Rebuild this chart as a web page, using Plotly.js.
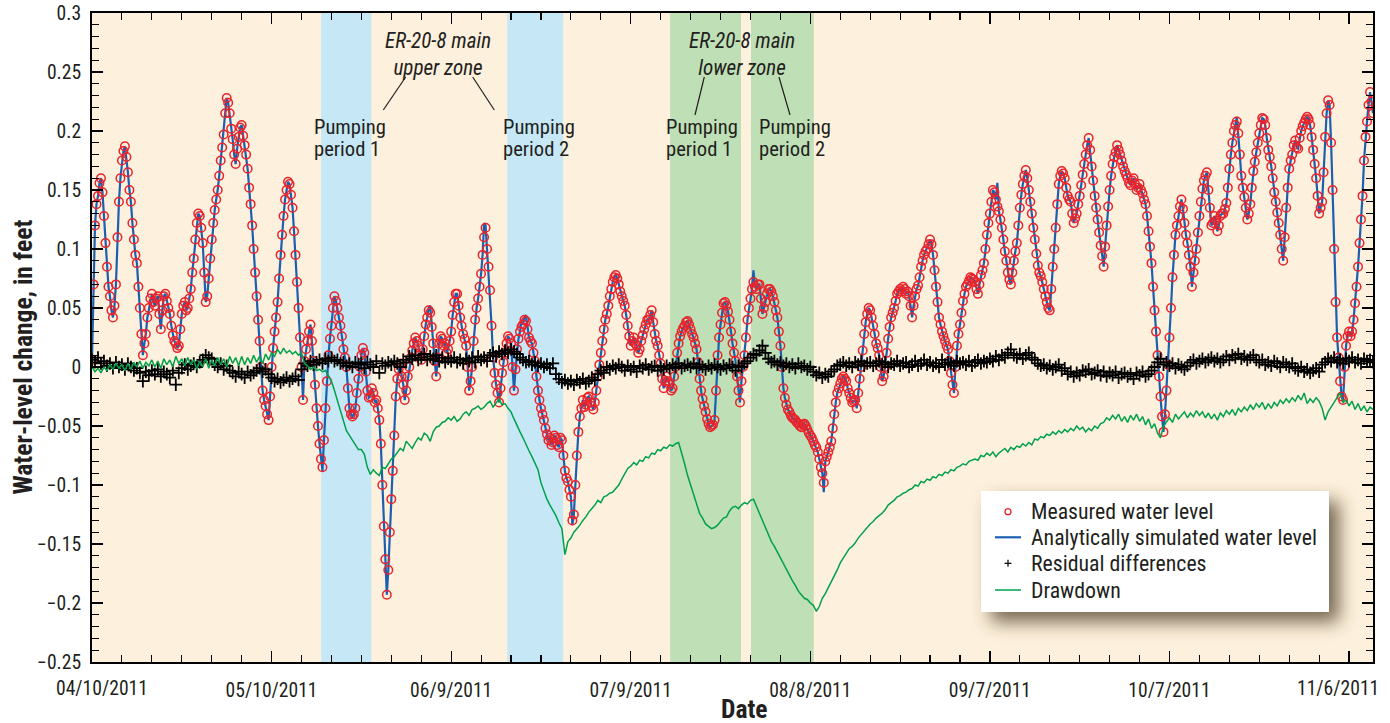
<!DOCTYPE html>
<html>
<head>
<meta charset="utf-8">
<script src="https://cdn.plot.ly/plotly-3.0.1.min.js"></script>
<style>
  html, body { margin: 0; padding: 0; background: #ffffff; }
  #chart { width: 1390px; height: 723px; }
</style>
</head>
<body>
<div id="chart"></div>
<script>
// Record starts 2011-04-10 00:00. Water levels every 6 hours, residuals and drawdown every 12 hours.
const recordStart = '2011-04-10T00:00:00Z';
const levelStepHours = 6;
const seriesStepHours = 12;

// Measured water-level change, feet
const measured = [
  0.006, 0.070, 0.120, 0.138, 0.145, 0.156, 0.160, 0.148, 0.128, 0.105, 0.085, 0.068, 0.060, 0.048, 0.042, 0.052, 0.070, 0.110, 0.140, 0.160,
  0.175, 0.183, 0.187, 0.178, 0.165, 0.150, 0.140, 0.122, 0.108, 0.095, 0.088, 0.068, 0.050, 0.028, 0.010, 0.020, 0.028, 0.042, 0.050, 0.058,
  0.062, 0.055, 0.052, 0.058, 0.060, 0.045, 0.032, 0.048, 0.060, 0.062, 0.056, 0.050, 0.045, 0.035, 0.027, 0.022, 0.020, 0.016, 0.018, 0.032,
  0.045, 0.052, 0.055, 0.048, 0.050, 0.058, 0.066, 0.080, 0.092, 0.108, 0.122, 0.130, 0.128, 0.118, 0.105, 0.080, 0.055, 0.060, 0.075, 0.092,
  0.108, 0.122, 0.133, 0.142, 0.150, 0.162, 0.175, 0.186, 0.197, 0.215, 0.228, 0.224, 0.215, 0.202, 0.193, 0.180, 0.172, 0.185, 0.195, 0.203,
  0.205, 0.196, 0.188, 0.180, 0.168, 0.152, 0.138, 0.120, 0.100, 0.080, 0.060, 0.040, 0.022, 0.000, -0.020, -0.028, -0.033, -0.040, -0.045, -0.025,
  0.000, 0.016, 0.030, 0.042, 0.055, 0.075, 0.095, 0.112, 0.128, 0.142, 0.150, 0.157, 0.155, 0.146, 0.135, 0.115, 0.095, 0.072, 0.050, 0.025,
  0.000, -0.028, 0.005, 0.015, 0.022, 0.030, 0.036, 0.022, 0.005, -0.015, -0.035, -0.050, -0.065, -0.078, -0.085, -0.062, -0.035, -0.012, 0.010, 0.024,
  0.035, 0.050, 0.060, 0.056, 0.050, 0.042, 0.035, 0.026, 0.015, 0.008, 0.000, -0.018, -0.035, -0.040, -0.042, -0.040, -0.035, -0.022, -0.010, 0.000,
  0.010, 0.016, 0.012, -0.004, -0.020, -0.026, -0.025, -0.018, -0.022, -0.030, -0.028, -0.035, -0.045, -0.065, -0.100, -0.135, -0.163, -0.193, -0.172, -0.140,
  -0.112, -0.088, -0.058, -0.025, -0.010, -0.002, 0.003, -0.008, -0.015, -0.028, -0.020, -0.008, 0.000, 0.008, 0.014, 0.020, 0.025, 0.022, 0.018, 0.010,
  0.006, 0.015, 0.026, 0.036, 0.042, 0.048, 0.046, 0.034, 0.020, 0.005, -0.008, 0.008, 0.020, 0.026, 0.024, 0.018, 0.020, 0.012, 0.015, 0.022,
  0.030, 0.044, 0.055, 0.062, 0.062, 0.052, 0.042, 0.035, 0.028, 0.024, 0.018, 0.000, -0.020, -0.012, 0.000, 0.022, 0.040, 0.050, 0.058, 0.068,
  0.079, 0.095, 0.110, 0.118, 0.100, 0.085, 0.065, 0.035, 0.008, -0.005, -0.015, -0.022, -0.030, -0.018, -0.005, 0.004, 0.012, 0.020, 0.026, 0.024,
  0.020, 0.000, -0.020, -0.002, 0.015, 0.024, 0.030, 0.034, 0.036, 0.040, 0.039, 0.032, 0.025, 0.022, 0.020, 0.012, 0.005, -0.008, -0.020, -0.028,
  -0.035, -0.040, -0.045, -0.052, -0.057, -0.062, -0.060, -0.066, -0.064, -0.058, -0.060, -0.066, -0.068, -0.060, -0.062, -0.075, -0.088, -0.094, -0.097, -0.104,
  -0.110, -0.130, -0.125, -0.100, -0.075, -0.055, -0.042, -0.035, -0.028, -0.034, -0.032, -0.026, -0.025, -0.030, -0.033, -0.036, -0.030, -0.020, -0.008, 0.002,
  0.012, 0.022, 0.032, 0.040, 0.045, 0.052, 0.060, 0.066, 0.072, 0.076, 0.078, 0.075, 0.070, 0.064, 0.060, 0.056, 0.052, 0.044, 0.035, 0.026,
  0.018, 0.022, 0.025, 0.020, 0.018, 0.012, 0.015, 0.022, 0.027, 0.032, 0.036, 0.040, 0.040, 0.044, 0.048, 0.038, 0.028, 0.022, 0.018, 0.010,
  0.003, -0.010, -0.018, -0.012, -0.008, -0.012, -0.015, -0.020, -0.018, -0.008, 0.000, 0.012, 0.020, 0.026, 0.030, 0.033, 0.035, 0.038, 0.039, 0.036,
  0.032, 0.028, 0.025, 0.020, 0.015, 0.004, -0.010, -0.020, -0.027, -0.033, -0.038, -0.044, -0.048, -0.051, -0.050, -0.049, -0.045, -0.020, 0.010, 0.025,
  0.036, 0.046, 0.054, 0.055, 0.052, 0.047, 0.040, 0.030, 0.020, 0.012, 0.005, -0.008, -0.020, -0.030, -0.012, 0.000, 0.010, 0.025, 0.040, 0.050,
  0.058, 0.066, 0.072, 0.068, 0.066, 0.070, 0.070, 0.058, 0.045, 0.050, 0.055, 0.062, 0.066, 0.066, 0.064, 0.060, 0.055, 0.048, 0.042, 0.030,
  0.018, 0.000, -0.018, -0.026, -0.032, -0.036, -0.038, -0.041, -0.043, -0.044, -0.045, -0.047, -0.048, -0.050, -0.051, -0.049, -0.048, -0.050, -0.053, -0.056,
  -0.058, -0.060, -0.063, -0.066, -0.068, -0.072, -0.078, -0.085, -0.090, -0.098, -0.080, -0.076, -0.072, -0.068, -0.063, -0.052, -0.040, -0.030, -0.022, -0.018,
  -0.014, -0.010, -0.008, -0.010, -0.012, -0.018, -0.022, -0.026, -0.030, -0.029, -0.028, -0.035, -0.022, -0.010, 0.000, 0.014, 0.028, 0.038, 0.045, 0.050,
  0.048, 0.042, 0.035, 0.028, 0.020, 0.016, 0.010, 0.000, -0.012, -0.008, 0.000, 0.012, 0.024, 0.034, 0.042, 0.046, 0.050, 0.056, 0.062, 0.064,
  0.066, 0.064, 0.068, 0.066, 0.062, 0.064, 0.060, 0.052, 0.042, 0.052, 0.060, 0.066, 0.069, 0.076, 0.085, 0.090, 0.095, 0.098, 0.100, 0.104,
  0.108, 0.104, 0.095, 0.082, 0.068, 0.055, 0.042, 0.036, 0.030, 0.026, 0.022, 0.018, 0.015, 0.005, -0.005, -0.015, -0.022, 0.000, 0.018, 0.028,
  0.036, 0.046, 0.056, 0.062, 0.068, 0.070, 0.073, 0.076, 0.075, 0.074, 0.072, 0.066, 0.062, 0.070, 0.078, 0.082, 0.088, 0.100, 0.112, 0.122,
  0.130, 0.140, 0.150, 0.148, 0.142, 0.136, 0.132, 0.125, 0.118, 0.108, 0.098, 0.090, 0.080, 0.074, 0.070, 0.080, 0.090, 0.098, 0.105, 0.120,
  0.135, 0.146, 0.155, 0.162, 0.167, 0.160, 0.150, 0.140, 0.130, 0.118, 0.108, 0.096, 0.086, 0.080, 0.077, 0.072, 0.066, 0.060, 0.055, 0.050,
  0.048, 0.066, 0.085, 0.100, 0.118, 0.138, 0.155, 0.162, 0.166, 0.164, 0.160, 0.152, 0.145, 0.142, 0.140, 0.130, 0.122, 0.126, 0.130, 0.138,
  0.145, 0.154, 0.163, 0.172, 0.180, 0.188, 0.194, 0.184, 0.170, 0.158, 0.145, 0.135, 0.125, 0.114, 0.103, 0.094, 0.085, 0.102, 0.120, 0.136,
  0.150, 0.162, 0.172, 0.178, 0.182, 0.188, 0.184, 0.180, 0.175, 0.170, 0.166, 0.163, 0.160, 0.156, 0.154, 0.158, 0.160, 0.155, 0.150, 0.152,
  0.155, 0.150, 0.147, 0.142, 0.138, 0.128, 0.115, 0.102, 0.088, 0.068, 0.048, 0.030, 0.010, -0.008, -0.025, -0.042, -0.055, -0.040, -0.020, 0.002,
  0.025, 0.050, 0.076, 0.095, 0.112, 0.120, 0.128, 0.136, 0.142, 0.134, 0.122, 0.112, 0.105, 0.095, 0.085, 0.068, 0.080, 0.090, 0.100, 0.114,
  0.128, 0.140, 0.151, 0.158, 0.162, 0.165, 0.150, 0.135, 0.120, 0.122, 0.128, 0.124, 0.115, 0.120, 0.128, 0.130, 0.130, 0.134, 0.139, 0.152,
  0.168, 0.180, 0.190, 0.200, 0.205, 0.208, 0.198, 0.180, 0.162, 0.152, 0.144, 0.135, 0.125, 0.130, 0.138, 0.152, 0.166, 0.174, 0.182, 0.190,
  0.198, 0.205, 0.211, 0.210, 0.205, 0.194, 0.184, 0.178, 0.170, 0.160, 0.148, 0.140, 0.131, 0.122, 0.112, 0.100, 0.090, 0.110, 0.135, 0.152,
  0.168, 0.175, 0.180, 0.188, 0.192, 0.186, 0.185, 0.194, 0.200, 0.204, 0.207, 0.210, 0.212, 0.210, 0.205, 0.195, 0.184, 0.172, 0.160, 0.145,
  0.130, 0.135, 0.140, 0.165, 0.195, 0.215, 0.226, 0.222, 0.190, 0.150, 0.100, 0.055, 0.025, 0.008, -0.012, -0.025, -0.028, 0.000, 0.018, 0.026,
  0.030, 0.026, 0.030, 0.040, 0.054, 0.068, 0.085, 0.105, 0.125, 0.145, 0.175, 0.195, 0.208, 0.222, 0.233, 0.225, 0.215
];

// Analytically simulated water-level change, feet
const simulated = [
  0.006, 0.070, 0.120, 0.138, 0.145, 0.156, 0.160, 0.148, 0.128, 0.105, 0.085, 0.068, 0.060, 0.048, 0.042, 0.052, 0.070, 0.110, 0.140, 0.160,
  0.175, 0.183, 0.187, 0.178, 0.165, 0.150, 0.140, 0.122, 0.108, 0.095, 0.088, 0.068, 0.050, 0.028, 0.010, 0.020, 0.028, 0.042, 0.050, 0.058,
  0.062, 0.055, 0.052, 0.058, 0.060, 0.045, 0.032, 0.048, 0.060, 0.062, 0.056, 0.050, 0.045, 0.035, 0.027, 0.022, 0.020, 0.016, 0.018, 0.032,
  0.045, 0.052, 0.055, 0.048, 0.050, 0.058, 0.066, 0.080, 0.092, 0.108, 0.122, 0.130, 0.128, 0.118, 0.105, 0.080, 0.055, 0.060, 0.075, 0.092,
  0.108, 0.122, 0.133, 0.142, 0.150, 0.162, 0.175, 0.186, 0.197, 0.215, 0.228, 0.224, 0.215, 0.202, 0.193, 0.180, 0.172, 0.185, 0.195, 0.203,
  0.205, 0.196, 0.188, 0.180, 0.168, 0.152, 0.138, 0.120, 0.100, 0.080, 0.060, 0.040, 0.022, 0.000, -0.020, -0.028, -0.033, -0.040, -0.045, -0.025,
  0.000, 0.016, 0.030, 0.042, 0.055, 0.075, 0.095, 0.112, 0.128, 0.142, 0.150, 0.157, 0.155, 0.146, 0.135, 0.115, 0.095, 0.072, 0.050, 0.025,
  0.000, -0.028, 0.005, 0.015, 0.022, 0.030, 0.036, 0.022, 0.005, -0.015, -0.035, -0.050, -0.065, -0.078, -0.088, -0.062, -0.035, -0.012, 0.010, 0.024,
  0.035, 0.050, 0.060, 0.056, 0.050, 0.042, 0.035, 0.026, 0.015, 0.008, 0.000, -0.018, -0.035, -0.040, -0.042, -0.040, -0.035, -0.022, -0.010, 0.000,
  0.010, 0.016, 0.012, -0.004, -0.020, -0.026, -0.025, -0.018, -0.022, -0.030, -0.028, -0.035, -0.045, -0.065, -0.100, -0.135, -0.163, -0.193, -0.172, -0.140,
  -0.112, -0.088, -0.058, -0.025, -0.010, -0.002, 0.003, -0.008, -0.015, -0.028, -0.020, -0.008, 0.000, 0.008, 0.014, 0.020, 0.025, 0.022, 0.018, 0.010,
  0.006, 0.015, 0.026, 0.036, 0.042, 0.050, 0.052, 0.034, 0.020, 0.005, -0.008, 0.008, 0.020, 0.026, 0.024, 0.018, 0.020, 0.012, 0.015, 0.022,
  0.030, 0.044, 0.055, 0.062, 0.062, 0.052, 0.042, 0.035, 0.028, 0.024, 0.018, 0.000, -0.020, -0.012, 0.000, 0.022, 0.040, 0.050, 0.058, 0.068,
  0.079, 0.095, 0.122, 0.120, 0.100, 0.085, 0.065, 0.035, 0.008, -0.005, -0.015, -0.022, -0.030, -0.018, -0.005, 0.004, 0.012, 0.020, 0.026, 0.024,
  0.020, 0.000, -0.020, -0.002, 0.015, 0.024, 0.030, 0.038, 0.036, 0.042, 0.044, 0.032, 0.025, 0.022, 0.020, 0.012, 0.005, -0.008, -0.020, -0.028,
  -0.035, -0.040, -0.045, -0.052, -0.057, -0.062, -0.060, -0.066, -0.064, -0.058, -0.060, -0.066, -0.068, -0.060, -0.062, -0.075, -0.088, -0.094, -0.097, -0.104,
  -0.110, -0.134, -0.125, -0.100, -0.075, -0.055, -0.042, -0.035, -0.028, -0.034, -0.032, -0.026, -0.025, -0.030, -0.033, -0.036, -0.030, -0.020, -0.008, 0.002,
  0.012, 0.022, 0.032, 0.040, 0.045, 0.052, 0.060, 0.066, 0.072, 0.076, 0.078, 0.075, 0.070, 0.064, 0.060, 0.056, 0.052, 0.044, 0.035, 0.026,
  0.018, 0.022, 0.025, 0.020, 0.018, 0.012, 0.015, 0.022, 0.027, 0.032, 0.036, 0.040, 0.040, 0.044, 0.048, 0.038, 0.028, 0.022, 0.018, 0.010,
  0.003, -0.010, -0.018, -0.012, -0.008, -0.012, -0.015, -0.020, -0.018, -0.008, 0.000, 0.012, 0.020, 0.026, 0.030, 0.033, 0.035, 0.038, 0.039, 0.036,
  0.032, 0.028, 0.025, 0.020, 0.015, 0.004, -0.010, -0.020, -0.027, -0.033, -0.038, -0.044, -0.048, -0.051, -0.050, -0.049, -0.045, -0.020, 0.010, 0.025,
  0.036, 0.046, 0.054, 0.055, 0.052, 0.047, 0.040, 0.030, 0.020, 0.012, 0.005, -0.008, -0.020, -0.030, -0.012, 0.000, 0.010, 0.025, 0.040, 0.050,
  0.058, 0.066, 0.082, 0.068, 0.066, 0.070, 0.070, 0.058, 0.045, 0.050, 0.055, 0.062, 0.066, 0.066, 0.064, 0.060, 0.055, 0.048, 0.042, 0.030,
  0.018, 0.000, -0.018, -0.026, -0.032, -0.036, -0.038, -0.041, -0.043, -0.044, -0.045, -0.047, -0.048, -0.050, -0.051, -0.049, -0.048, -0.050, -0.053, -0.056,
  -0.058, -0.060, -0.063, -0.066, -0.068, -0.072, -0.078, -0.085, -0.090, -0.106, -0.080, -0.076, -0.072, -0.068, -0.063, -0.052, -0.040, -0.030, -0.022, -0.018,
  -0.014, -0.010, -0.008, -0.010, -0.012, -0.018, -0.022, -0.026, -0.030, -0.029, -0.028, -0.035, -0.022, -0.010, 0.000, 0.014, 0.028, 0.038, 0.045, 0.050,
  0.048, 0.042, 0.035, 0.028, 0.020, 0.016, 0.010, 0.000, -0.012, -0.008, 0.000, 0.012, 0.024, 0.034, 0.042, 0.046, 0.050, 0.056, 0.062, 0.064,
  0.066, 0.064, 0.068, 0.066, 0.062, 0.064, 0.060, 0.052, 0.042, 0.052, 0.060, 0.066, 0.069, 0.076, 0.085, 0.090, 0.095, 0.098, 0.100, 0.104,
  0.108, 0.104, 0.095, 0.082, 0.068, 0.055, 0.042, 0.036, 0.030, 0.026, 0.022, 0.018, 0.015, 0.005, -0.005, -0.015, -0.022, 0.000, 0.018, 0.028,
  0.036, 0.046, 0.056, 0.062, 0.068, 0.070, 0.073, 0.076, 0.075, 0.074, 0.072, 0.066, 0.062, 0.070, 0.078, 0.082, 0.088, 0.100, 0.112, 0.122,
  0.130, 0.140, 0.150, 0.148, 0.142, 0.156, 0.132, 0.125, 0.118, 0.108, 0.098, 0.090, 0.080, 0.074, 0.070, 0.080, 0.090, 0.098, 0.105, 0.120,
  0.135, 0.146, 0.155, 0.162, 0.167, 0.160, 0.150, 0.140, 0.130, 0.118, 0.108, 0.096, 0.086, 0.080, 0.077, 0.072, 0.066, 0.060, 0.055, 0.050,
  0.048, 0.066, 0.085, 0.100, 0.118, 0.138, 0.155, 0.162, 0.166, 0.164, 0.160, 0.152, 0.145, 0.142, 0.140, 0.130, 0.122, 0.126, 0.130, 0.138,
  0.145, 0.154, 0.163, 0.172, 0.180, 0.188, 0.194, 0.184, 0.170, 0.158, 0.145, 0.135, 0.125, 0.114, 0.103, 0.094, 0.085, 0.102, 0.120, 0.136,
  0.150, 0.162, 0.172, 0.178, 0.182, 0.188, 0.184, 0.180, 0.175, 0.170, 0.166, 0.163, 0.160, 0.156, 0.154, 0.158, 0.160, 0.155, 0.150, 0.152,
  0.155, 0.150, 0.147, 0.142, 0.138, 0.128, 0.115, 0.102, 0.088, 0.068, 0.048, 0.030, 0.010, -0.008, -0.025, -0.042, -0.055, -0.040, -0.020, 0.002,
  0.025, 0.050, 0.076, 0.095, 0.112, 0.120, 0.128, 0.136, 0.142, 0.134, 0.122, 0.112, 0.105, 0.095, 0.085, 0.068, 0.080, 0.090, 0.100, 0.114,
  0.128, 0.140, 0.151, 0.158, 0.162, 0.165, 0.150, 0.135, 0.120, 0.122, 0.128, 0.124, 0.115, 0.120, 0.128, 0.130, 0.130, 0.134, 0.139, 0.152,
  0.168, 0.180, 0.190, 0.200, 0.205, 0.212, 0.198, 0.180, 0.162, 0.152, 0.144, 0.135, 0.125, 0.130, 0.138, 0.152, 0.166, 0.174, 0.182, 0.190,
  0.198, 0.205, 0.211, 0.210, 0.205, 0.194, 0.184, 0.178, 0.170, 0.160, 0.148, 0.140, 0.131, 0.122, 0.112, 0.100, 0.090, 0.110, 0.135, 0.152,
  0.168, 0.175, 0.180, 0.188, 0.192, 0.186, 0.185, 0.194, 0.200, 0.204, 0.207, 0.210, 0.212, 0.210, 0.205, 0.195, 0.184, 0.172, 0.160, 0.145,
  0.130, 0.135, 0.140, 0.165, 0.195, 0.215, 0.226, 0.222, 0.190, 0.150, 0.100, 0.055, 0.025, 0.008, -0.012, -0.025, -0.028, 0.000, 0.018, 0.026,
  0.030, 0.026, 0.030, 0.040, 0.054, 0.068, 0.085, 0.105, 0.125, 0.145, 0.175, 0.195, 0.208, 0.222, 0.233, 0.225, 0.215
];

// Residual differences (measured minus simulated), feet
const residual = [
  0.006, 0.004, 0.008, 0.003, 0.005, 0.001, 0.003, -0.001, 0.004, 0.000,
  0.002, -0.002, 0.003, 0.000, -0.003, -0.001, -0.005, -0.012, -0.004, -0.007,
  -0.003, -0.006, -0.002, -0.008, -0.004, -0.006, -0.009, -0.003, -0.015, -0.005,
  -0.001, 0.002, -0.002, 0.001, 0.003, 0.000, 0.004, 0.006, 0.010, 0.008,
  0.007, 0.002, 0.000, 0.003, -0.002, 0.001, -0.003, -0.005, -0.008, -0.004,
  -0.006, -0.009, -0.004, -0.007, -0.005, -0.003, -0.001, -0.004, -0.002, -0.006,
  -0.009, -0.012, -0.010, -0.013, -0.011, -0.009, -0.012, -0.010, -0.008, -0.011,
  -0.002, 0.003, 0.001, 0.005, 0.002, 0.004, 0.006, 0.003, 0.007, 0.005,
  0.008, 0.005, 0.006, 0.003, 0.004, 0.001, 0.003, 0.000, 0.004, 0.002,
  0.003, -0.001, 0.004, 0.002, 0.000, 0.005, -0.005, 0.003, 0.001, 0.004,
  0.002, 0.005, 0.003, 0.000, 0.006, 0.004, 0.009, 0.007, 0.010, 0.006,
  0.008, 0.011, 0.006, 0.009, 0.007, 0.010, 0.005, 0.008, 0.004, 0.007,
  0.005, 0.008, 0.004, 0.006, 0.003, 0.007, 0.005, 0.008, 0.004, 0.009,
  0.006, 0.008, 0.005, 0.010, 0.012, 0.009, 0.013, 0.011, 0.014, 0.012,
  0.015, 0.013, 0.011, 0.008, 0.006, 0.004, 0.005, 0.002, 0.004, 0.001,
  0.003, 0.000, 0.002, -0.001, 0.003, -0.006, -0.010, -0.013, -0.011, -0.014,
  -0.012, -0.015, -0.011, -0.013, -0.010, -0.014, -0.012, -0.009, -0.011, -0.006,
  -0.003, -0.005, 0.000, -0.002, 0.001, -0.001, 0.002, 0.000, -0.003, 0.001,
  -0.002, 0.000, -0.004, 0.001, -0.001, 0.002, -0.002, 0.000, 0.001, -0.003,
  0.000, -0.002, 0.001, -0.001, 0.002, 0.000, 0.003, -0.001, 0.001, 0.002,
  0.000, 0.003, -0.001, 0.002, 0.000, -0.002, 0.001, -0.001, 0.002, 0.000,
  -0.002, 0.001, -0.001, 0.002, 0.000, -0.003, 0.001, 0.000, 0.003, 0.005,
  0.008, 0.011, 0.010, 0.014, 0.018, 0.012, 0.007, 0.004, 0.005, 0.002,
  0.004, 0.001, 0.003, 0.000, 0.002, -0.001, 0.003, 0.000, 0.001, -0.002,
  0.000, -0.004, -0.007, -0.005, -0.009, -0.006, -0.008, -0.004, -0.002, 0.001,
  0.002, 0.004, 0.001, 0.003, 0.000, 0.004, 0.002, 0.005, 0.001, 0.003,
  0.004, 0.001, 0.003, 0.005, 0.002, 0.004, 0.000, 0.003, 0.002, 0.005,
  0.001, 0.003, 0.004, 0.000, 0.002, 0.005, 0.001, 0.003, 0.006, 0.002,
  0.004, 0.001, 0.003, 0.000, 0.006, 0.002, 0.004, 0.003, 0.001, 0.005,
  0.003, 0.004, 0.002, 0.005, 0.001, 0.004, 0.006, 0.003, 0.005, 0.004,
  0.007, 0.005, 0.009, 0.006, 0.010, 0.008, 0.012, 0.015, 0.010, 0.008,
  0.011, 0.007, 0.010, 0.012, 0.008, 0.006, 0.003, 0.001, 0.002, -0.001,
  0.001, -0.002, 0.000, 0.002, -0.003, -0.001, -0.006, -0.004, -0.008, -0.005,
  -0.007, -0.003, -0.004, -0.002, -0.006, -0.005, -0.003, -0.007, -0.004, -0.008,
  -0.005, -0.007, -0.004, -0.009, -0.006, -0.005, -0.008, -0.006, -0.010, -0.005,
  -0.007, -0.004, -0.008, -0.006, -0.003, 0.000, 0.004, 0.007, 0.002, 0.004,
  0.001, 0.003, -0.001, 0.002, 0.000, -0.002, 0.001, 0.004, 0.006, 0.003,
  0.005, 0.007, 0.004, 0.006, 0.008, 0.005, 0.007, 0.004, 0.006, 0.009,
  0.006, 0.010, 0.008, 0.011, 0.007, 0.009, 0.006, 0.008, 0.010, 0.006,
  0.004, 0.006, 0.002, 0.004, 0.001, 0.005, 0.003, 0.000, 0.004, 0.002,
  0.000, 0.003, -0.001, -0.003, 0.000, -0.004, -0.002, -0.005, -0.003, -0.001,
  -0.004, 0.002, 0.004, 0.007, 0.005, 0.008, 0.004, 0.006, 0.003, 0.007,
  0.005, 0.008, 0.004, 0.006, 0.003, 0.007, 0.005, 0.006, 0.004
];

// Drawdown from pumping, feet
const drawdown = [
  0.000, -0.004, -0.001, -0.005, 0.000, -0.003, 0.002, -0.002, 0.003, -0.001,
  0.002, -0.003, 0.003, -0.002, 0.004, 0.000, 0.005, -0.001, 0.004, 0.001,
  0.006, 0.000, 0.005, -0.001, 0.007, 0.002, 0.006, 0.000, 0.009, 0.003,
  0.007, 0.001, 0.008, 0.002, 0.006, -0.002, 0.005, 0.000, 0.007, -0.001,
  0.006, 0.001, 0.008, 0.002, 0.007, 0.000, 0.009, 0.003, 0.008, 0.001,
  0.009, 0.002, 0.008, 0.003, 0.010, 0.004, 0.009, 0.003, 0.011, 0.006,
  0.012, 0.009, 0.015, 0.011, 0.016, 0.012, 0.014, 0.011, 0.013, 0.010,
  0.012, 0.003, 0.001, -0.002, 0.000, -0.003, -0.002, -0.004, -0.003, -0.007,
  -0.012, -0.020, -0.028, -0.036, -0.045, -0.054, -0.058, -0.062, -0.066, -0.070,
  -0.070, -0.074, -0.085, -0.091, -0.087, -0.090, -0.092, -0.085, -0.086, -0.082,
  -0.078, -0.076, -0.072, -0.069, -0.071, -0.063, -0.066, -0.069, -0.064, -0.060,
  -0.062, -0.056, -0.058, -0.063, -0.055, -0.051, -0.050, -0.047, -0.046, -0.043,
  -0.045, -0.042, -0.046, -0.044, -0.040, -0.038, -0.041, -0.036, -0.035, -0.033,
  -0.036, -0.034, -0.031, -0.029, -0.034, -0.030, -0.027, -0.032, -0.031, -0.035,
  -0.038, -0.044, -0.050, -0.055, -0.060, -0.066, -0.071, -0.076, -0.082, -0.087,
  -0.098, -0.106, -0.112, -0.117, -0.121, -0.126, -0.132, -0.137, -0.159, -0.148,
  -0.145, -0.140, -0.137, -0.134, -0.130, -0.127, -0.123, -0.120, -0.117, -0.113,
  -0.115, -0.110, -0.109, -0.107, -0.106, -0.103, -0.100, -0.095, -0.090, -0.086,
  -0.084, -0.081, -0.083, -0.079, -0.080, -0.076, -0.077, -0.073, -0.074, -0.070,
  -0.071, -0.068, -0.069, -0.066, -0.067, -0.065, -0.064, -0.072, -0.082, -0.092,
  -0.100, -0.109, -0.116, -0.124, -0.128, -0.133, -0.135, -0.137, -0.136, -0.134,
  -0.131, -0.128, -0.127, -0.122, -0.119, -0.118, -0.120, -0.117, -0.115, -0.116,
  -0.113, -0.112, -0.118, -0.124, -0.130, -0.136, -0.142, -0.148, -0.152, -0.157,
  -0.162, -0.167, -0.172, -0.177, -0.181, -0.185, -0.190, -0.193, -0.196, -0.197,
  -0.200, -0.202, -0.207, -0.203, -0.196, -0.192, -0.187, -0.183, -0.178, -0.172,
  -0.166, -0.162, -0.157, -0.154, -0.152, -0.149, -0.145, -0.142, -0.139, -0.136,
  -0.133, -0.131, -0.128, -0.126, -0.124, -0.121, -0.117, -0.115, -0.113, -0.110,
  -0.109, -0.107, -0.106, -0.104, -0.103, -0.100, -0.101, -0.097, -0.098, -0.095,
  -0.096, -0.093, -0.094, -0.091, -0.092, -0.089, -0.090, -0.087, -0.088, -0.085,
  -0.084, -0.082, -0.083, -0.080, -0.079, -0.078, -0.079, -0.075, -0.076, -0.073,
  -0.075, -0.072, -0.076, -0.073, -0.071, -0.069, -0.072, -0.068, -0.070, -0.067,
  -0.068, -0.065, -0.067, -0.064, -0.066, -0.061, -0.062, -0.059, -0.060, -0.057,
  -0.058, -0.055, -0.057, -0.054, -0.056, -0.053, -0.055, -0.052, -0.054, -0.050,
  -0.053, -0.051, -0.055, -0.052, -0.054, -0.050, -0.052, -0.048, -0.047, -0.043,
  -0.045, -0.041, -0.044, -0.040, -0.046, -0.042, -0.047, -0.041, -0.045, -0.040,
  -0.046, -0.042, -0.049, -0.044, -0.052, -0.048, -0.056, -0.060, -0.050, -0.046,
  -0.043, -0.047, -0.040, -0.044, -0.041, -0.038, -0.043, -0.039, -0.042, -0.037,
  -0.041, -0.038, -0.043, -0.039, -0.044, -0.040, -0.045, -0.039, -0.042, -0.037,
  -0.040, -0.036, -0.041, -0.035, -0.038, -0.034, -0.037, -0.032, -0.036, -0.031,
  -0.034, -0.030, -0.036, -0.031, -0.035, -0.030, -0.033, -0.028, -0.031, -0.027,
  -0.030, -0.026, -0.029, -0.024, -0.028, -0.022, -0.031, -0.027, -0.030, -0.026,
  -0.029, -0.035, -0.045, -0.038, -0.034, -0.030, -0.026, -0.022, -0.030, -0.028,
  -0.033, -0.029, -0.036, -0.031, -0.037, -0.033, -0.038, -0.034, -0.036
];

// Pumping periods at well ER-20-8 main
const pumpingPeriods = [
  { zone: 'upper', start: '2011-05-18 07:00', end: '2011-05-26 16:00' },
  { zone: 'upper', start: '2011-06-18 09:00', end: '2011-06-27 17:00' },
  { zone: 'lower', start: '2011-07-15 14:00', end: '2011-07-27 10:00' },
  { zone: 'lower', start: '2011-07-29 02:00', end: '2011-08-08 14:00' }
];

// Labelled date ticks (every 30 days)
const tickDates  = ['2011-04-10', '2011-05-10', '2011-06-09', '2011-07-09', '2011-08-08', '2011-09-07', '2011-10-07', '2011-11-06'];
const tickLabels = ['04/10/2011', '05/10/2011', '06/9/2011', '07/9/2011', '08/8/2011', '09/7/2011', '10/7/2011', '11/6/2011'];

const INK = '#231f20';

// Page geometry of the plotting area, used to place notes and the key in paper units
const AREA = { left: 92, right: 1373, top: 13, bottom: 662 };
const PX = x => (x - AREA.left) / (AREA.right - AREA.left);
const PY = y => (AREA.bottom - y) / (AREA.bottom - AREA.top);

// Pick the narrowest installed sans family and size each kind of text by its target width
const ctx = document.createElement('canvas').getContext('2d');
function textWidth(text, family, size, weight, style) {
  ctx.font = `${style || 'normal'} ${weight || 'normal'} ${size}px ${family}`;
  return ctx.measureText(text).width;
}
function installed(name) {
  const probe = 'Water-level 0123456789';
  return textWidth(probe, `'${name}', monospace`, 40) !== textWidth(probe, 'monospace', 40);
}
const FAMILY_NAME = ['Roboto Condensed', 'Liberation Sans Narrow', 'Noto Sans Condensed', 'DejaVu Sans Condensed', 'Liberation Sans']
  .find(installed) || 'sans-serif';
const FONT = `'${FAMILY_NAME}', sans-serif`;
function fit(text, width, weight, style) {
  return Math.round(width / textWidth(text, FONT, 100, weight, style) * 1000) / 10;
}
const tickSize   = fit('05/10/2011', 92);
const noteSize   = fit('Pumping', 72);
const zoneSize   = fit('ER-20-8 main', 106, 'normal', 'italic');
const keySize    = fit('Analytically simulated water level', 286);
const titleSize  = fit('Water-level change, in feet', 275, 'bold');

function sampleTimes(n, stepHours) {
  const t0 = Date.parse(recordStart);
  const out = [];
  for (let i = 0; i < n; i++) {
    out.push(new Date(t0 + i * stepHours * 3600000).toISOString().slice(0, 19).replace('T', ' '));
  }
  return out;
}

const styles = {
  measured:  { color: '#e8242c' },
  simulated: { color: '#1a5fb0' },
  residual:  { color: '#000000' },
  drawdown:  { color: '#00a14b' }
};

const traces = [
  {
    name: 'Analytically simulated water level',
    x: sampleTimes(simulated.length, levelStepHours), y: simulated,
    type: 'scatter', mode: 'lines',
    line: { color: styles.simulated.color, width: 2.2 }
  },
  {
    name: 'Measured water level',
    x: sampleTimes(measured.length, levelStepHours), y: measured,
    type: 'scatter', mode: 'markers',
    marker: { symbol: 'circle-open', size: 8.5, color: styles.measured.color, line: { width: 1.5, color: styles.measured.color } }
  },
  {
    name: 'Residual differences',
    x: sampleTimes(residual.length, seriesStepHours), y: residual,
    type: 'scatter', mode: 'markers',
    marker: { symbol: 'cross-thin', size: 9, color: styles.residual.color, line: { width: 1.8, color: styles.residual.color } }
  },
  {
    name: 'Drawdown',
    x: sampleTimes(drawdown.length, seriesStepHours), y: drawdown,
    type: 'scatter', mode: 'lines',
    line: { color: styles.drawdown.color, width: 1.5 }
  }
];

const shapes = pumpingPeriods.map(p => ({
  type: 'rect', xref: 'x', yref: 'paper', layer: 'below',
  x0: p.start, x1: p.end, y0: 0, y1: 1,
  fillcolor: p.zone === 'upper' ? '#c6e7f6' : '#bfdfb6',
  line: { width: 0 }
}));

// Leader lines from the zone labels down to each period label (page pixels)
const leaders = [
  [405.7, 77, 383.3, 110],
  [472.7, 77, 494.3, 110],
  [704.3, 77, 695.0, 115],
  [779.0, 77, 790.0, 115]
];
leaders.forEach(([x0, y0, x1, y1]) => shapes.push({
  type: 'line', xref: 'paper', yref: 'paper',
  x0: PX(x0), y0: PY(y0), x1: PX(x1), y1: PY(y1),
  line: { color: INK, width: 1.2 }
}));

function note(text, x, y, anchor, italic) {
  return {
    text, x: PX(x), y: PY(y), xref: 'paper', yref: 'paper', xanchor: anchor, yanchor: 'middle',
    showarrow: false, align: 'center',
    font: { family: FONT, size: italic ? zoneSize : noteSize, color: INK, style: italic ? 'italic' : 'normal' }
  };
}

const annotations = [
  note('ER-20-8 main<br>upper zone', 437.5, 54, 'center', true),
  note('Pumping', 311.7, 127, 'left'),
  note('period 1', 311.7, 148.5, 'left'),
  note('Pumping', 501, 127, 'left'),
  note('period 2', 501, 148.5, 'left'),
  note('ER-20-8 main<br>lower zone', 741.5, 54, 'center', true),
  note('Pumping', 664, 127, 'left'),
  note('period 1', 664, 148.5, 'left'),
  note('Pumping', 756.7, 127, 'left'),
  note('period 2', 756.7, 148.5, 'left'),
  // end date labels, nudged inward so they stay on the page
  {
    text: tickLabels[0], x: tickDates[0], xref: 'x', xshift: 10,
    y: PY(688), yref: 'paper', yanchor: 'middle', xanchor: 'center', showarrow: false,
    font: { family: FONT, size: tickSize, color: INK }
  },
  {
    text: tickLabels[tickLabels.length - 1], x: tickDates[tickDates.length - 1], xref: 'x', xshift: -11,
    y: PY(688), yref: 'paper', yanchor: 'middle', xanchor: 'center', showarrow: false,
    font: { family: FONT, size: tickSize, color: INK }
  },
  // axis titles
  {
    text: 'Water-level change, in feet', textangle: -90,
    x: PX(22), y: PY(357.5), xref: 'paper', yref: 'paper', xanchor: 'center', yanchor: 'middle', showarrow: false,
    font: { family: FONT, size: titleSize, color: INK, weight: 'bold' }
  },
  {
    text: 'Date',
    x: PX(744), y: PY(709), xref: 'paper', yref: 'paper', xanchor: 'center', yanchor: 'middle', showarrow: false,
    font: { family: FONT, size: titleSize, color: INK, weight: 'bold' }
  }
];

// Key box in the lower right, one row per series
const KEY = { left: 981, right: 1329, top: 491, bottom: 612, textX: 1029, symX0: 995, symX1: 1021, rows: [511.7, 537.3, 563.3, 590] };
shapes.push({
  type: 'rect', xref: 'paper', yref: 'paper',
  x0: PX(KEY.left), x1: PX(KEY.right), y0: PY(KEY.bottom), y1: PY(KEY.top),
  fillcolor: '#ffffff', line: { width: 0 }, name: 'key-box'
});
const keyMid = (KEY.symX0 + KEY.symX1) / 2;
const keyEntries = [
  { label: 'Measured water level', kind: 'circle', color: styles.measured.color },
  { label: 'Analytically simulated water level', kind: 'line', color: styles.simulated.color, width: 2.2 },
  { label: 'Residual differences', kind: 'plus', color: styles.residual.color },
  { label: 'Drawdown', kind: 'line', color: styles.drawdown.color, width: 1.5 }
];
keyEntries.forEach((e, i) => {
  const y = KEY.rows[i];
  if (e.kind === 'circle') {
    shapes.push({ type: 'circle', xref: 'paper', yref: 'paper',
      x0: PX(keyMid - 3), x1: PX(keyMid + 3), y0: PY(y + 3), y1: PY(y - 3),
      line: { color: e.color, width: 1.3 }, fillcolor: 'rgba(0,0,0,0)' });
  } else if (e.kind === 'line') {
    shapes.push({ type: 'line', xref: 'paper', yref: 'paper',
      x0: PX(KEY.symX0), x1: PX(KEY.symX1), y0: PY(y), y1: PY(y),
      line: { color: e.color, width: e.width } });
  } else {
    shapes.push({ type: 'line', xref: 'paper', yref: 'paper',
      x0: PX(keyMid - 3.5), x1: PX(keyMid + 3.5), y0: PY(y), y1: PY(y), line: { color: e.color, width: 1.2 } });
    shapes.push({ type: 'line', xref: 'paper', yref: 'paper',
      x0: PX(keyMid), x1: PX(keyMid), y0: PY(y - 3.5), y1: PY(y + 3.5), line: { color: e.color, width: 1.2 } });
  }
  annotations.push({
    text: e.label, x: PX(KEY.textX), y: PY(y), xref: 'paper', yref: 'paper',
    xanchor: 'left', yanchor: 'middle', showarrow: false,
    font: { family: FONT, size: keySize, color: INK }
  });
});

const axisCommon = {
  showline: true, linecolor: '#000', linewidth: 2, mirror: 'ticks',
  ticks: 'inside', tickcolor: '#000', tickwidth: 1.3, ticklen: 11,
  showgrid: false, zeroline: false
};

const layout = {
  width: 1390, height: 723,
  margin: { l: AREA.left, r: 1390 - AREA.right, t: AREA.top, b: 723 - AREA.bottom },
  paper_bgcolor: '#ffffff',
  plot_bgcolor: '#fdf0dc',
  font: { family: FONT, color: INK },
  showlegend: false,
  xaxis: Object.assign({}, axisCommon, {
    type: 'date',
    range: ['2011-04-10', '2011-11-10'],
    tickmode: 'array',
    tickvals: tickDates,
    ticktext: tickLabels.map((t, i) => (i === 0 || i === tickLabels.length - 1) ? '' : t),
    tickfont: { family: FONT, size: tickSize, color: INK },
    ticklabelstandoff: 9,
    minor: { tickmode: 'linear', tick0: '2011-04-10', dtick: 5 * 86400000, ticks: 'inside', ticklen: 7, tickwidth: 1.1, tickcolor: '#000' }
  }),
  yaxis: Object.assign({}, axisCommon, {
    range: [-0.25, 0.3],
    tickmode: 'linear', tick0: 0, dtick: 0.05,
    tickfont: { family: FONT, size: tickSize, color: INK },
    ticklabelstandoff: 5,
    minor: { tickmode: 'linear', tick0: 0, dtick: 0.01, ticks: 'inside', ticklen: 7, tickwidth: 1.1, tickcolor: '#000' }
  }),
  shapes,
  annotations
};

Plotly.newPlot('chart', traces, layout, { staticPlot: true, displayModeBar: false }).then(gd => {
  // soft drop shadow behind the key box
  const ns = 'http://www.w3.org/2000/svg';
  const box = [...gd.querySelectorAll('.shapelayer path')]
    .find(p => (p.style.fill || '').replace(/\s/g, '') === 'rgb(255,255,255)');
  if (!box) return;
  const svg = box.ownerSVGElement;
  let defs = svg.querySelector('defs');
  if (!defs) { defs = document.createElementNS(ns, 'defs'); svg.insertBefore(defs, svg.firstChild); }
  const filter = document.createElementNS(ns, 'filter');
  filter.setAttribute('id', 'keyShadow');
  filter.setAttribute('x', '-20%'); filter.setAttribute('y', '-40%');
  filter.setAttribute('width', '160%'); filter.setAttribute('height', '200%');
  const drop = document.createElementNS(ns, 'feDropShadow');
  drop.setAttribute('dx', '10'); drop.setAttribute('dy', '10');
  drop.setAttribute('stdDeviation', '9');
  drop.setAttribute('flood-color', '#4a3b22');
  drop.setAttribute('flood-opacity', '0.75');
  filter.appendChild(drop);
  defs.appendChild(filter);
  box.setAttribute('filter', 'url(#keyShadow)');
});
</script>
</body>
</html>
